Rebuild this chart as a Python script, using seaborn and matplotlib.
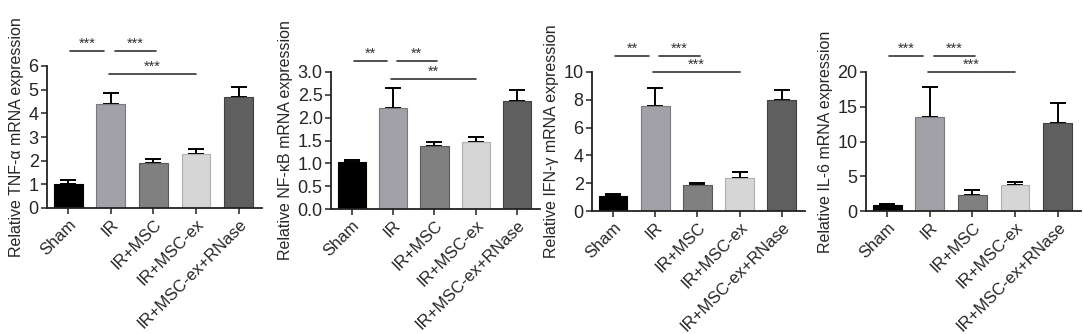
"""
Relative mRNA expression of TNF-a, NF-kB, IFN-y and IL-6 across treatment
groups, shown as four bar panels with SEM error bars and significance marks.
"""
import numpy as np
import pandas as pd
from matplotlib import pyplot as plt
import seaborn as sns

# Data
groups = ["Sham", "IR", "IR+MSC", "IR+MSC-ex", "IR+MSC-ex+RNase"]

tnf_mean = [1.03, 4.40, 1.90, 2.28, 4.68]
tnf_sem = [0.16, 0.45, 0.16, 0.23, 0.43]

nfkb_mean = [1.03, 2.21, 1.39, 1.47, 2.36]
nfkb_sem = [0.04, 0.43, 0.08, 0.11, 0.24]

ifn_mean = [1.08, 7.52, 1.90, 2.41, 7.95]
ifn_sem = [0.15, 1.30, 0.12, 0.36, 0.77]

il6_mean = [0.82, 13.5, 2.35, 3.74, 12.7]
il6_sem = [0.14, 4.30, 0.72, 0.38, 2.90]

ylabels = [
    "Relative TNF-\u03b1 mRNA expression",
    "Relative NF-\u03baB mRNA expression",
    "Relative IFN-\u03b3 mRNA expression",
    "Relative IL-6 mRNA expression",
]
yticks = [
    np.arange(0, 7, 1),
    np.arange(0, 3.01, 0.5),
    np.arange(0, 11, 2),
    np.arange(0, 21, 5),
]
tick_fmt = ["{:.0f}", "{:.1f}", "{:.0f}", "{:.0f}"]

# significance labels per panel (upper-left, upper-right, lower long bracket)
stars = [
    ["***", "***", "***"],
    ["**", "**", "**"],
    ["**", "***", "***"],
    ["***", "***", "***"],
]

colors = ["#000000", "#a1a0a8", "#808080", "#d6d6d6", "#5f5f5f"]
edges = ["#000000", "#7a7980", "#5a5a5a", "#b0b0b0", "#404040"]

# axes boxes in pixels: left, right, top, bottom
W, H = 1084, 334
boxes = [
    (47, 262, 66, 208),
    (331, 540, 72, 209),
    (592, 805, 72, 211),
    (866, 1081, 72, 211),
]
# y (axes fraction) of upper and lower bracket lines
bracket_y = [(1.106, 0.944), (1.08, 0.95), (1.115, 1.0), (1.115, 1.0)]


def draw_panel(ax, means, sems, ylabel, ticks, fmt, labels, by):
    df = pd.DataFrame({"group": groups, "value": means})
    sns.barplot(
        data=df,
        x="group",
        y="value",
        hue="group",
        palette=colors,
        order=groups,
        legend=False,
        width=0.68,
        errorbar=None,
        ax=ax,
        zorder=2,
    )
    for patch, ec in zip(ax.patches, edges):
        patch.set_edgecolor(ec)
        patch.set_linewidth(0.8)

    # upper-only error bars
    x = np.arange(len(groups))
    ax.errorbar(
        x,
        means,
        yerr=[np.zeros(len(sems)), sems],
        fmt="none",
        ecolor="black",
        elinewidth=1.4,
        capsize=5.5,
        capthick=1.4,
        zorder=1,
    )

    ax.set_xlim(-0.5, 4.55)
    ax.set_ylim(0, ticks[-1])
    ax.set_yticks(ticks)
    ax.set_yticklabels([fmt.format(t) for t in ticks], fontsize=13)
    ax.set_xticks(x)
    ax.set_xticklabels(
        groups, rotation=45, ha="right", rotation_mode="anchor", fontsize=12
    )
    ax.set_xlabel("")
    ax.set_ylabel(ylabel, fontsize=11.5, labelpad=3)

    for side in ["top", "right"]:
        ax.spines[side].set_visible(False)
    for side in ["left", "bottom"]:
        ax.spines[side].set_linewidth(1.3)
        ax.spines[side].set_color("#222222")
    ax.tick_params(axis="both", length=4, width=1.1, color="#222222", pad=2)

    # significance brackets
    trans = ax.get_xaxis_transform()
    hi, lo = by
    spans = [(0.05, 0.85, hi), (1.1, 2.05, hi), (0.95, 3.0, lo)]
    for (x0, x1, yy), lab in zip(spans, labels):
        ax.plot(
            [x0, x1], [yy, yy], color="#333333", lw=1.2,
            transform=trans, clip_on=False,
        )
        ax.annotate(
            lab, xy=((x0 + x1) / 2, yy), xycoords=trans,
            xytext=(0, 2.5), textcoords="offset points",
            ha="center", va="baseline", fontsize=10.5, color="#333333",
            annotation_clip=False,
        )


sns.set_style("ticks")
plt.rcParams["font.family"] = ["Liberation Sans", "DejaVu Sans"]

fig = plt.figure(figsize=(W / 100, H / 100), dpi=100)

all_means = [tnf_mean, nfkb_mean, ifn_mean, il6_mean]
all_sems = [tnf_sem, nfkb_sem, ifn_sem, il6_sem]

for i, (l, r, t, b) in enumerate(boxes):
    ax = fig.add_axes([l / W, 1 - b / H, (r - l) / W, (b - t) / H])
    draw_panel(
        ax, all_means[i], all_sems[i], ylabels[i], yticks[i],
        tick_fmt[i], stars[i], bracket_y[i],
    )

fig.savefig("out.png", dpi=100)
